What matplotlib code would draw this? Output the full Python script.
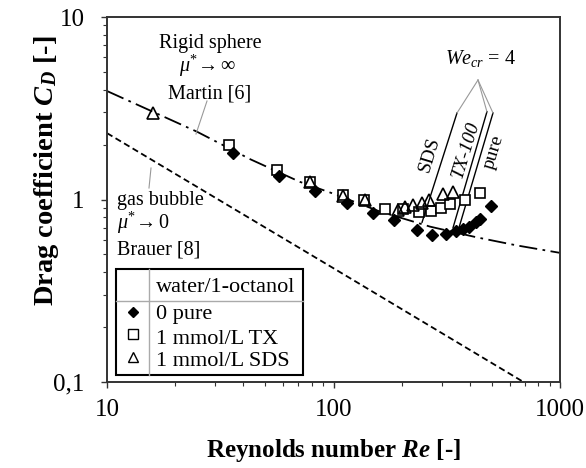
import matplotlib
matplotlib.use('Agg')
import matplotlib.pyplot as plt
from matplotlib.ticker import NullFormatter

plt.rcParams['font.family'] = ['Liberation Serif', 'DejaVu Serif']
plt.rcParams['mathtext.fontset'] = 'custom'
plt.rcParams['mathtext.rm'] = 'Liberation Serif'
plt.rcParams['mathtext.it'] = 'Liberation Serif:italic'
plt.rcParams['mathtext.bf'] = 'Liberation Serif:bold'
plt.rcParams['mathtext.bfit'] = 'Liberation Serif:italic:bold'

# measured drag coefficients, water/1-octanol
re_pure = [36.0, 57.4, 82.9, 114.7, 149.4, 184.9, 233.7, 272.2, 313.9, 347.4, 373.0, 396.6, 425.8, 443.6, 496.1]
cd_pure = [1.80, 1.345, 1.113, 0.957, 0.843, 0.772, 0.680, 0.639, 0.647, 0.672, 0.689, 0.707, 0.753, 0.78, 0.921]

re_tx = [34.6, 56.3, 78.8, 110.1, 136.3, 168.9, 202.7, 238.5, 269.4, 298.3, 326.9, 380.8, 443.6]
cd_tx = [1.99, 1.45, 1.247, 1.058, 0.994, 0.887, 0.887, 0.854, 0.865, 0.898, 0.945, 0.994, 1.085]

re_sds = [16.0, 78.8, 110.1, 137.7, 192.6, 206.9, 224.4, 245.9, 264.0, 304.4, 337.0]
cd_sds = [2.98, 1.24, 1.05, 0.99, 0.876, 0.910, 0.933, 0.957, 0.994, 1.072, 1.099]

# correlations
re_martin = [10, 16, 25, 43, 71, 97, 160, 267, 430, 646, 1000]
cd_martin = [3.93, 3.02, 2.35, 1.66, 1.25, 1.09, 0.86, 0.71, 0.62, 0.56, 0.51]
re_brauer = [10, 100, 690]
cd_brauer = [2.31, 0.42, 0.1]

# We_cr = 4 lines
re_we_sds = [351, 246]
cd_we_sds = [2.98, 0.75]
re_we_tx = [476, 337]
cd_we_tx = [3.03, 0.70]
re_we_pure = [506, 358]
cd_we_pure = [2.98, 0.70]

x_ticks = [10, 100, 1000]
x_labels = ['10', '100', '1000']
y_ticks = [0.1, 1, 10]
y_labels = ['0,1', '1', '10']

W, H = 586, 468
L, T, R, B = 107, 17, 560, 382

fig = plt.figure(figsize=(W / 100, H / 100), dpi=100)
ax = fig.add_axes([L / W, 1 - B / H, (R - L) / W, (B - T) / H])


def axf(px, py):
    # pixel position -> axes fraction
    return (px - L) / (R - L), (B - py) / (B - T)


ax.set_xscale('log')
ax.set_yscale('log')
ax.set_xlim(10, 1000)
ax.set_ylim(0.1, 10)

# curves
ax.plot(re_martin, cd_martin, color='black', lw=1.3, dashes=(10, 3, 1.5, 3), zorder=2)
ax.plot(re_brauer, cd_brauer, color='black', lw=1.3, dashes=(3.5, 2), zorder=2)
for rr, cc in [(re_we_sds, cd_we_sds), (re_we_tx, cd_we_tx), (re_we_pure, cd_we_pure)]:
    ax.plot(rr, cc, color='black', lw=1.0, zorder=2)

# data points
ax.plot(re_tx, cd_tx, 's', ms=7.5, mfc='white', mec='black', mew=1.2, ls='none', zorder=3)
ax.plot(re_sds, cd_sds, '^', ms=8, mfc='none', mec='black', mew=1.2, ls='none', zorder=4)
ax.plot(re_pure, cd_pure, 'D', ms=6, color='black', ls='none', zorder=5)

# ticks
ax.set_xticks(x_ticks, labels=x_labels)
ax.set_yticks(y_ticks, labels=y_labels)
ax.xaxis.set_minor_formatter(NullFormatter())
ax.yaxis.set_minor_formatter(NullFormatter())
ax.tick_params(which='major', direction='out', length=4.3, width=1.0, labelsize=18, color='#333333')
ax.tick_params(which='minor', direction='out', length=3.0, width=0.8, color='#333333')
ax.tick_params(axis='x', which='major', pad=8)
ax.tick_params(axis='y', which='major', pad=12)
for sp in ax.spines.values():
    sp.set_color('#333333')
    sp.set_linewidth(1.4)

# axis labels
fig.text(333.5 / W, 1 - 457 / H, r'Reynolds number $\mathbfit{Re}$ [-]', fontsize=18,
         fontweight='bold', ha='center', va='baseline')
fig.text(47 / W, 1 - 171 / H, r'Drag coefficient $\mathbfit{C}_{\mathbfit{D}}$ [-]', fontsize=20.5,
         fontweight='bold', ha='center', va='center', rotation=90)

# annotations
fs = 14.5
ax.text(*axf(210, 48), 'Rigid sphere', fontsize=fs, ha='center', va='baseline', transform=ax.transAxes)
ax.text(*axf(208, 72), r'$\mu^{*}\!\rightarrow\infty$', fontsize=fs, ha='center', va='baseline', transform=ax.transAxes)
ax.text(*axf(210, 98), 'Martin [6]', fontsize=fs, ha='center', va='baseline', transform=ax.transAxes)
ax.plot(*zip(axf(207, 101), axf(196, 134)), color='#999999', lw=0.8, transform=ax.transAxes)

ax.text(*axf(117, 205), 'gas bubble', fontsize=fs, ha='left', va='baseline', transform=ax.transAxes)
ax.text(*axf(117, 229), r'$\mu^{*}\!\rightarrow 0$', fontsize=fs, ha='left', va='baseline', transform=ax.transAxes)
ax.text(*axf(117, 255), 'Brauer [8]', fontsize=fs, ha='left', va='baseline', transform=ax.transAxes)
ax.plot(*zip(axf(151, 168), axf(149, 188)), color='#999999', lw=0.8, transform=ax.transAxes)

ax.text(*axf(445, 64), r'$We_{cr}$ = 4', fontsize=fs, ha='left', va='baseline', transform=ax.transAxes)
for ex, ey in [(457, 113), (487, 112), (493, 113)]:
    ax.plot(*zip(axf(478, 80), axf(ex, ey)), color='#999999', lw=0.8, transform=ax.transAxes)

ax.text(*axf(430, 155), 'SDS', fontsize=14, rotation=73, rotation_mode='anchor',
        ha='center', va='center', transform=ax.transAxes)
ax.text(*axf(466, 150), 'TX-100', fontsize=14, style='italic', rotation=73, rotation_mode='anchor',
        ha='center', va='center', transform=ax.transAxes)
ax.text(*axf(494, 152), 'pure', fontsize=14, rotation=73, rotation_mode='anchor',
        ha='center', va='center', transform=ax.transAxes)

# legend table
x0, y0 = axf(116, 375)
x1, y1 = axf(303, 269)
ax.add_patch(plt.Rectangle((x0, y0), x1 - x0, y1 - y0, transform=ax.transAxes,
                           facecolor='white', edgecolor='black', lw=1.5, zorder=6))
ax.plot(*zip(axf(149, 269), axf(149, 375)), color='#aaaaaa', lw=1, transform=ax.transAxes, zorder=7)
ax.plot(*zip(axf(116, 301), axf(303, 301)), color='#aaaaaa', lw=1, transform=ax.transAxes, zorder=7)
lfs = 16
ax.text(*axf(156, 292), 'water/1-octanol', fontsize=lfs, ha='left', va='baseline', transform=ax.transAxes, zorder=8)
ax.text(*axf(156, 319), '0 pure', fontsize=lfs, ha='left', va='baseline', transform=ax.transAxes, zorder=8)
ax.text(*axf(156, 344), '1 mmol/L TX', fontsize=lfs, ha='left', va='baseline', transform=ax.transAxes, zorder=8)
ax.text(*axf(156, 366), '1 mmol/L SDS', fontsize=lfs, ha='left', va='baseline', transform=ax.transAxes, zorder=8)
ax.plot(*axf(133, 312), 'D', ms=5.5, color='black', transform=ax.transAxes, clip_on=False, zorder=8)
ax.plot(*axf(133, 334), 's', ms=7, mfc='white', mec='black', mew=1.0, transform=ax.transAxes, clip_on=False, zorder=8)
ax.plot(*axf(133, 357), '^', ms=7.5, mfc='white', mec='black', mew=1.0, transform=ax.transAxes, clip_on=False, zorder=8)

fig.savefig('out.png', dpi=100)
